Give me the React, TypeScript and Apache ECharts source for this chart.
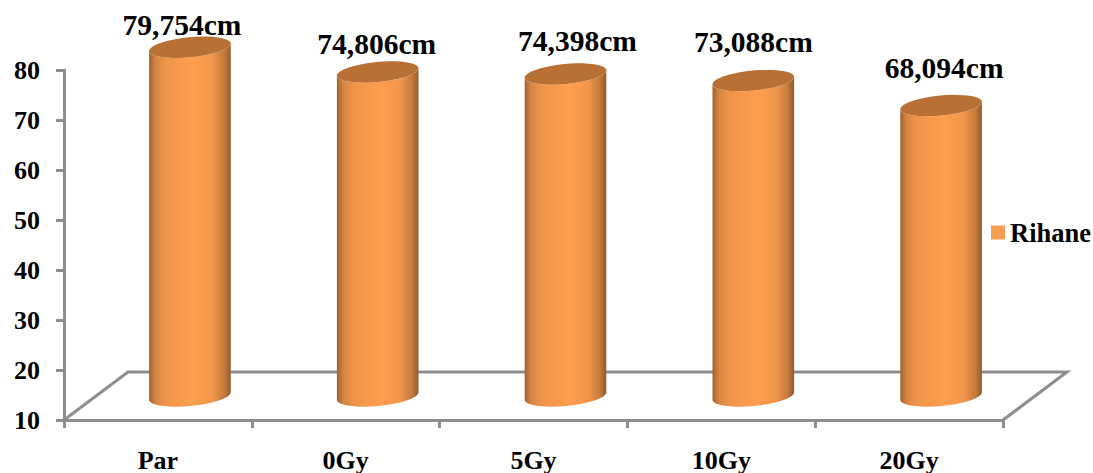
import React, { useEffect, useRef } from "react";
import * as echarts from "echarts";

const categories = ["Par", "0Gy", "5Gy", "10Gy", "20Gy"];
const rihane = [79.754, 74.806, 74.398, 73.088, 68.094];
const seriesName = "Rihane";
const labelShiftX = [-8, -1, 12, 0, 3];
const labelShiftY = [-22, -28, -33, -39, -38];

const FONT = '"Liberation Serif", "Times New Roman", serif';
const GRAY = "#8e8e8e";
const DEPTH_X = 32;
const DEPTH_Y = -24;
const FLOOR_DX = 64;
const FLOOR_DY = -48;
const RX = 41;
const RY = 10;
const TILT = (-5.5 * Math.PI) / 180;

function ellipsePoint(cx: number, cy: number, t: number): number[] {
  const x = RX * Math.cos(t);
  const y = RY * Math.sin(t);
  return [
    cx + x * Math.cos(TILT) - y * Math.sin(TILT),
    cy + x * Math.sin(TILT) + y * Math.cos(TILT),
  ];
}

function ellipseArc(cx: number, cy: number, from: number, to: number): number[][] {
  const pts: number[][] = [];
  const n = 40;
  for (let i = 0; i <= n; i++) pts.push(ellipsePoint(cx, cy, from + ((to - from) * i) / n));
  return pts;
}

function renderCylinder(params: any, api: any) {
  const idx = params.dataIndex;
  const top = api.coord([api.value(0), api.value(1)]);
  const base = api.coord([api.value(0), 10]);
  const cx = top[0] + DEPTH_X;
  const topY = top[1] + DEPTH_Y;
  const baseY = base[1] + DEPTH_Y;
  const topArc = ellipseArc(cx, topY, Math.PI, 0);
  const baseArc = ellipseArc(cx, baseY, 0, Math.PI);
  const body = topArc.concat(baseArc);
  const fill = new echarts.graphic.LinearGradient(0, 0, 1, 0, [
    { offset: 0, color: "#a2622f" },
    { offset: 0.08, color: "#d58544" },
    { offset: 0.2, color: "#ee9449" },
    { offset: 0.55, color: "#fe9e4e" },
    { offset: 0.78, color: "#f0954a" },
    { offset: 0.92, color: "#c57a3c" },
    { offset: 1, color: "#925a2b" },
  ]);
  const text = String(rihane[idx].toFixed(3)).replace(".", ",") + "cm";
  return {
    type: "group",
    children: [
      { type: "polygon", shape: { points: body }, style: { fill } },
      {
        type: "polygon",
        shape: { points: ellipseArc(cx, topY, 0, Math.PI * 2) },
        style: { fill: "#b97034" },
      },
      {
        type: "text",
        x: cx + labelShiftX[idx],
        y: topY + labelShiftY[idx],
        style: {
          text,
          fill: "#000",
          font: `bold 29.5px ${FONT}`,
          align: "center",
          verticalAlign: "middle",
        },
      },
    ],
  };
}

function renderFloor(params: any, api: any) {
  const cs = params.coordSys;
  const l = cs.x;
  const r = cs.x + cs.width;
  const b = cs.y + cs.height;
  return {
    type: "polyline",
    shape: {
      points: [
        [l, b],
        [l + FLOOR_DX, b + FLOOR_DY],
        [r + FLOOR_DX, b + FLOOR_DY],
        [r, b],
      ],
    },
    style: { stroke: GRAY, lineWidth: 3, fill: "none" },
  };
}

export default function App() {
  const ref = useRef<HTMLDivElement>(null);
  useEffect(() => {
    const chart = echarts.init(ref.current!, null, { renderer: "svg" });
    chart.setOption({
      animation: false,
      backgroundColor: "#fff",
      textStyle: { fontFamily: FONT },
      grid: { left: 64, right: 90, top: 70, bottom: 53 },
      legend: {
        data: [seriesName],
        left: 986,
        top: 214,
        itemWidth: 14,
        itemHeight: 14,
        itemGap: 5,
        icon: "rect",
        textStyle: { fontFamily: FONT, fontWeight: "bold", fontSize: 26.5, color: "#000" },
      },
      xAxis: {
        type: "category",
        data: categories,
        axisLine: { lineStyle: { color: GRAY, width: 3 } },
        axisTick: { show: true, length: 8, lineStyle: { color: GRAY, width: 3 }, alignWithLabel: false },
        axisLabel: { color: "#000", fontWeight: "bold", fontSize: 26, fontFamily: FONT, margin: 27 },
      },
      yAxis: {
        type: "value",
        min: 10,
        max: 80,
        interval: 10,
        splitLine: { show: false },
        axisLine: { show: true, lineStyle: { color: GRAY, width: 3 } },
        axisTick: { show: true, length: 8, lineStyle: { color: GRAY, width: 3 } },
        axisLabel: { color: "#000", fontWeight: "bold", fontSize: 26, fontFamily: FONT, margin: 24, padding: [6, 0, 0, 0] },
      },
      series: [
        {
          type: "custom",
          name: "floor",
          coordinateSystem: "cartesian2d",
          renderItem: renderFloor,
          data: [[0, 10]],
          z: 1,
          silent: true,
        },
        {
          type: "custom",
          name: seriesName,
          coordinateSystem: "cartesian2d",
          renderItem: renderCylinder,
          itemStyle: { color: "#f89c50" },
          encode: { x: 0, y: 1 },
          data: rihane.map((v, i) => [i, v]),
          z: 2,
        },
      ],
    });
    return () => chart.dispose();
  }, []);
  return <div ref={ref} style={{ position: "absolute", left: 0, top: 0, width: 1093, height: 473 }} />;
}
